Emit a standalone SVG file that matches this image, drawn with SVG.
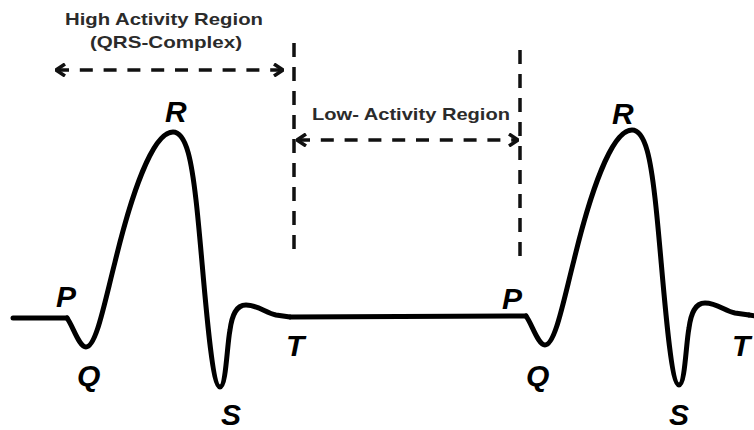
<svg xmlns="http://www.w3.org/2000/svg" xmlns:xlink="http://www.w3.org/1999/xlink" width="754" height="430" viewBox="0 0 754 430">
  <style>
    .wave { fill: none; stroke: #000; stroke-width: 5; stroke-linejoin: round; stroke-linecap: round; }
    .dash-h { fill: none; stroke: #111; stroke-width: 3.5; stroke-dasharray: 13 10.8; }
    .dash-v { fill: none; stroke: #111; stroke-width: 3.5; stroke-dasharray: 14 10; }
    .lbl { font-family: "Liberation Sans", Arial, sans-serif; font-weight: bold; font-style: italic; font-size: 30px; fill: #000; }
    .hdr { font-family: "Liberation Sans", Arial, sans-serif; font-weight: bold; font-size: 17px; fill: #2b2b2b; }
  </style>
  <defs>
    <marker id="arrow" viewBox="0 0 12 14" refX="11" refY="7" markerWidth="12" markerHeight="14" markerUnits="userSpaceOnUse" orient="auto-start-reverse">
      <path d="M 2 1 L 11 7 L 2 13" fill="none" stroke="#111" stroke-width="3.5" stroke-dasharray="none"/>
    </marker>
    <path id="beat" d="M 67 318 C 73 326, 79 347, 86 347 C 96 347, 104 305, 115 262 C 130 200, 152 132, 173 132 C 187 132, 192 165, 196 200 C 203 260, 210 387, 220 387 C 226 387, 227 345, 230 330 C 232 315, 236 305, 246 305 C 258 305, 266 313, 276 315 L 290 317"/>
  </defs>

  <g id="waveform">
    <path class="wave" d="M 13 318 L 67 318"/>
    <use xlink:href="#beat" href="#beat" class="wave"/>
    <path class="wave" d="M 290 317 L 526 316"/>
    <use xlink:href="#beat" href="#beat" class="wave" transform="translate(459,-2)"/>
    <path class="wave" d="M 749 315 L 756 316"/>
  </g>

  <g id="connectors">
    <path class="dash-h" d="M 56 70 L 283 70" marker-start="url(#arrow)" marker-end="url(#arrow)"/>
    <path class="dash-v" d="M 294 43 L 294 250"/>
    <path class="dash-v" d="M 520 50 L 520 257"/>
    <path class="dash-h" d="M 297 140 L 518 140" marker-start="url(#arrow)" marker-end="url(#arrow)"/>
  </g>

  <g id="high-activity-label">
    <text class="hdr" x="65" y="25" textLength="198" lengthAdjust="spacingAndGlyphs">High Activity Region</text>
    <text class="hdr" x="90" y="48" textLength="152" lengthAdjust="spacingAndGlyphs">(QRS-Complex)</text>
  </g>
  <g id="low-activity-label">
    <text class="hdr" x="312" y="120" textLength="198" lengthAdjust="spacingAndGlyphs">Low- Activity Region</text>
  </g>

  <g id="wave-labels-1">
    <text class="lbl" x="56" y="307">P</text>
    <text class="lbl" x="77" y="386">Q</text>
    <text class="lbl" x="165" y="122">R</text>
    <text class="lbl" x="221" y="425">S</text>
    <text class="lbl" x="286" y="356">T</text>
  </g>
  <g id="wave-labels-2">
    <text class="lbl" x="502" y="309">P</text>
    <text class="lbl" x="526" y="386">Q</text>
    <text class="lbl" x="612" y="124">R</text>
    <text class="lbl" x="669" y="425">S</text>
    <text class="lbl" x="732" y="356">T</text>
  </g>
</svg>
